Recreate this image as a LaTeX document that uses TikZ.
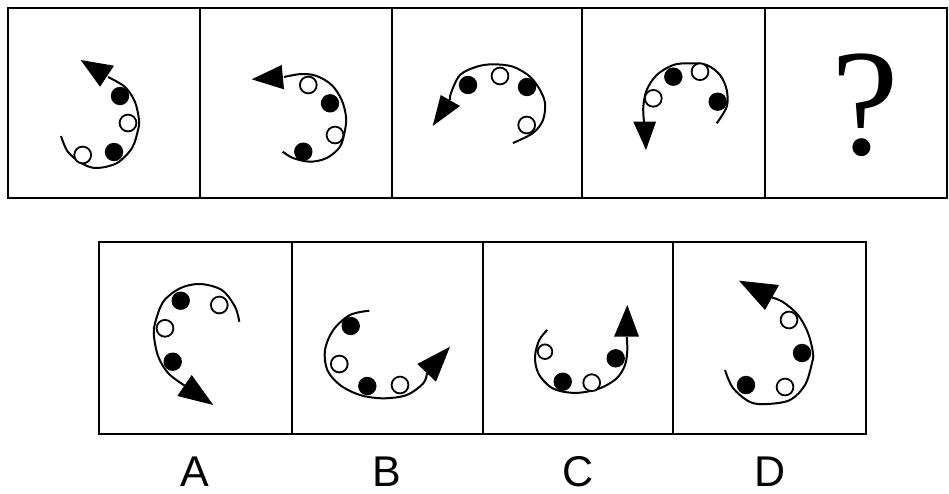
\documentclass[tikz,border=0pt]{standalone}
\usepackage{fontspec}
\setmainfont{Liberation Sans}
\newfontfamily\serifq{Liberation Serif}
\begin{document}
\begin{tikzpicture}[x=1pt,y=-1pt,
 frame/.style={draw=black,line width=2.8pt},
 curve/.style={draw=black,line width=2pt},
 head/.style={fill=black},
 bdot/.style={fill=black},
 wdot/.style={draw=black,fill=white,line width=1.8pt},
 lbl/.style={font=\fontsize{43}{43}\selectfont,inner sep=0pt}]
\useasboundingbox[fill=white] (0,0) rectangle (949,493);
% frames
\draw[frame] (8,8) rectangle (947,198);
\foreach \xx in {200,392,582,765} \draw[frame] (\xx,8) -- (\xx,198);
\draw[frame] (99,242) rectangle (866,434);
\foreach \xx in {292,483,673} \draw[frame] (\xx,242) -- (\xx,434);
% panel 1
\draw[curve] plot[smooth,tension=0.55] coordinates {(61,136) (68,152) (83,164) (97,168) (117,163) (132,148) (138,130) (139,120) (135,102) (125,87) (108,77)};
\fill[head] (80.7,60) -- (114,65.7) -- (100,86.7) -- cycle;
\fill[bdot] (120,96) circle[radius=9.2pt];
\draw[wdot] (128,123) circle[radius=8.4pt];
\fill[bdot] (114,152) circle[radius=9.2pt];
\draw[wdot] (82.7,155) circle[radius=8.4pt];
% panel 2
\draw[curve] plot[smooth,tension=0.55] coordinates {(282.7,151.7) (293,158) (310,161.7) (326.7,158) (340,146.7) (345,130) (346,116.7) (341.7,100) (331.7,85) (316.7,76) (301.7,74) (284,77)};
\fill[head] (251.7,79.3) -- (281.7,65) -- (284,89.3) -- cycle;
\draw[wdot] (308.3,85) circle[radius=8.4pt];
\fill[bdot] (330,103.3) circle[radius=9.2pt];
\draw[wdot] (335,135) circle[radius=8.4pt];
\fill[bdot] (303.3,151.7) circle[radius=9.2pt];
% panel 3
\draw[curve] plot[smooth,tension=0.55] coordinates {(513,143) (533,133) (543,120) (545,103.3) (540,90) (530,76.7) (513,66.7) (493,64.3) (476.7,66.7) (460,75) (451,93) (450,100)};
\fill[head] (432.7,126) -- (440.7,95) -- (460,106) -- cycle;
\fill[bdot] (468,85) circle[radius=9.2pt];
\draw[wdot] (500,76) circle[radius=8.4pt];
\fill[bdot] (527,87) circle[radius=9.2pt];
\draw[wdot] (526.7,125) circle[radius=8.4pt];
% panel 4
\draw[curve] plot[smooth,tension=0.55] coordinates {(716.7,123.3) (726.7,106.7) (726.7,90) (720,75) (706.7,65) (690,63.3) (673.3,65) (656.7,75) (646.7,90) (643.3,106.7) (644,122)};
\fill[head] (646,150) -- (633.3,121.7) -- (656,121.7) -- cycle;
\draw[wdot] (653.3,98.3) circle[radius=8.4pt];
\fill[bdot] (673.3,76.7) circle[radius=9.2pt];
\draw[wdot] (700,71.7) circle[radius=8.4pt];
\fill[bdot] (717.7,101.7) circle[radius=9.2pt];
% panel 5
\node[font=\serifq\fontsize{152}{152}\selectfont,inner sep=0pt] (q) at (865,105) {?};
% option A
\draw[curve] plot[smooth,tension=0.55] coordinates {(239.3,321.7) (235,306.7) (221.7,290) (200,284) (180,288.3) (163.3,301.7) (155,323.3) (154,336.7) (158.3,356.7) (168.3,373.3) (184.5,385.5)};
\fill[head] (213.3,405) -- (191.7,375) -- (177.3,396) -- cycle;
\fill[bdot] (180.7,300.7) circle[radius=9.2pt];
\draw[wdot] (219.3,305) circle[radius=8.4pt];
\draw[wdot] (165,328.3) circle[radius=8.4pt];
\fill[bdot] (172.7,361.7) circle[radius=9.2pt];
% option B
\draw[curve] plot[smooth,tension=0.55] coordinates {(369.3,310.7) (350,315) (333.3,330) (325,350) (327.3,370) (340,385) (360,395) (383.3,398.3) (406.7,395) (423.3,383.3) (427,373)};
\fill[head] (450,346.7) -- (417.3,364) -- (436,381.7) -- cycle;
\fill[bdot] (350.7,326) circle[radius=9.2pt];
\draw[wdot] (339.3,364) circle[radius=8.4pt];
\fill[bdot] (367.3,386) circle[radius=9.2pt];
\draw[wdot] (400,385) circle[radius=8.4pt];
% option C
\draw[curve] plot[smooth,tension=0.55] coordinates {(547.3,330) (539.3,340) (535,356.7) (538.3,373.3) (550,386.7) (563.3,391.7) (580,392.7) (600,388.3) (616.7,378.3) (625,365) (627.3,350) (626.7,337)};
\fill[head] (627.3,305) -- (614,336.7) -- (639,336.7) -- cycle;
\draw[wdot] (545,351.7) circle[radius=7.3pt];
\fill[bdot] (562.7,381.7) circle[radius=9.2pt];
\draw[wdot] (591.7,382.7) circle[radius=8.4pt];
\fill[bdot] (615.7,358.3) circle[radius=9.2pt];
% option D
\draw[curve] plot[smooth,tension=0.55] coordinates {(725,370) (733,388) (750,402) (767,404) (790,400) (805,385) (812,363) (813,353) (808,333) (798,315) (783,302) (772,297.5)};
\fill[head] (739,280.7) -- (779,285) -- (765,310) -- cycle;
\draw[wdot] (789,320) circle[radius=8.4pt];
\fill[bdot] (802,353) circle[radius=9.2pt];
\draw[wdot] (785,387) circle[radius=8.4pt];
\fill[bdot] (746,385) circle[radius=9.2pt];
% labels
\node[lbl] (la) at (195,472) {A};
\node[lbl] (lb) at (387,472) {B};
\node[lbl] (lc) at (578,472) {C};
\node[lbl] (ld) at (770,472) {D};
\end{tikzpicture}
\end{document}
